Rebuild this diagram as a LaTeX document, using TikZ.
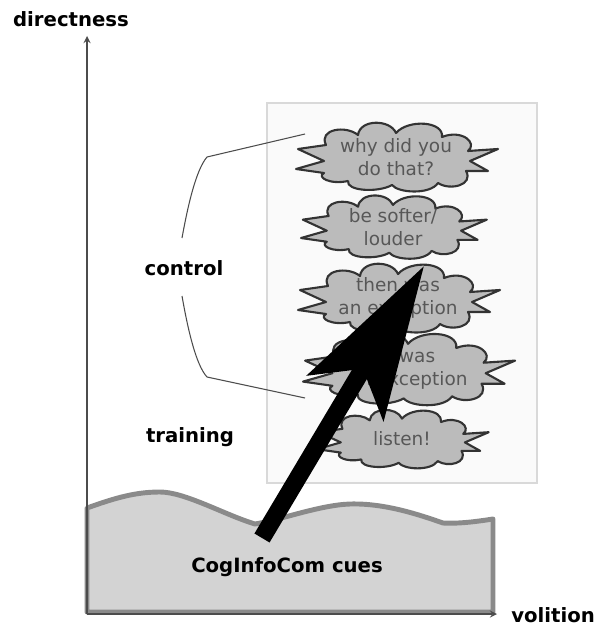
\documentclass[tikz,border=0pt]{standalone}
\usepackage{fontspec}
\setmainfont{DejaVu Sans}
\usetikzlibrary{arrows.meta}
\definecolor{cuefill}{HTML}{BBBBBB}
\definecolor{cuetext}{HTML}{575757}
\definecolor{groundfill}{HTML}{D3D3D3}
\definecolor{groundline}{HTML}{8A8A8A}
\definecolor{panelfill}{HTML}{FAFAFA}
\definecolor{panelline}{HTML}{D9D9D9}
\tikzset{>=latex}
\tikzset{
    tag/.style={font=\fontsize{11.2}{13}\selectfont\bfseries},
    axis/.style={draw=black!70, line width=0.8pt},
    brace/.style={draw=black!70, line width=0.6pt},
    cloudbody/.style={fill=cuefill, draw=black!80, line width=1.2pt, line join=round},
    cuetxt/.style={text=cuetext, align=center, font=\fontsize{10.5}{13}\selectfont},
}
% name, centre, scale, text
\newcommand*{\cuecloud}[4]{%
    \draw[cloudbody, shift={#2}, scale=#3](-100, 12)--(-72, 4)--(-98, -8)--(-70, -12)
        .. controls (-78, -28) and (-50, -32) .. (-38, -22)
        .. controls (-36, -38) and (-6, -38) .. (0, -24)
        .. controls (12, -38) and (48, -36) .. (46, -20)
        .. controls (66, -28) and (82, -14) .. (72, -6)
        --(102, -8)--(74, 4)--(92, 14)--(70, 14)
        .. controls (78, 28) and (54, 34) .. (42, 26)
        .. controls (34, 38) and (2, 36) .. (-4, 28)
        .. controls (-18, 36) and (-50, 34) .. (-48, 24)
        .. controls (-66, 28) and (-80, 20) .. (-72, 16)--cycle;
    \node[cuetxt](#1)at#2{#4};
}

\begin{document}
\begin{tikzpicture}[x={(0.02cm, 0)}, y={(0, -0.02cm)}]
    \useasboundingbox(0, 0)rectangle(602, 628);
    \coordinate(O)at(87, 614);
    \coordinate(Y)at(87, 36);
    \coordinate(X)at(497, 614);
    % ground of cues
    \draw[fill=groundfill, draw=groundline, line width=2.8pt, line join=round]
        (87, 612)--(87, 508)
        .. controls (115, 498) and (135, 492) .. (160, 492)
        .. controls (185, 492) and (225, 515) .. (255, 524)
        .. controls (280, 520) and (320, 505) .. (350, 504)
        .. controls (385, 503) and (420, 515) .. (443, 523)
        .. controls (460, 524) and (480, 521) .. (493, 519)
        --(493, 612)--cycle;
    \node[tag](cues)at(287, 567){CogInfoCom cues};
    \draw[axis, -stealth](O)--(Y);
    \draw[axis, -stealth](O)--(X);
    \node[tag](dir)at(71, 19){directness};
    \node[tag](vol)at(553, 615){volition};
    % panel with the cues
    \draw[fill=panelfill, draw=panelline, line width=1.2pt](267, 103)rectangle(537, 483);
    \cuecloud{why}{(396, 157)}{1}{why did you\\do that?}
    \cuecloud{soft}{(393, 227)}{0.92}{be softer/\\louder}
    \cuecloud{then}{(398, 298)}{1}{then was\\an exception}
    \cuecloud{was}{(408, 369)}{1.05}{it was\\an exception}
    \cuecloud{listen}{(402, 439)}{0.85}{listen!}
    % brace
    \draw[brace](305, 134)--(207, 157) .. controls (196, 170) and (188, 205) .. (182, 238);
    \draw[brace](182, 296) .. controls (188, 330) and (196, 365) .. (207, 377)--(305, 398);
    \node[tag](ctrl)at(184, 268){control};
    \node[tag](train)at(190, 437){training};
    % big arrow
    \coordinate(root)at(262, 538);
    \coordinate(tip)at(424, 266);
    \draw[line width=10pt, -{Stealth[length=87pt, width=50pt, inset=19pt]}](root)--(tip);
\end{tikzpicture}
\end{document}
